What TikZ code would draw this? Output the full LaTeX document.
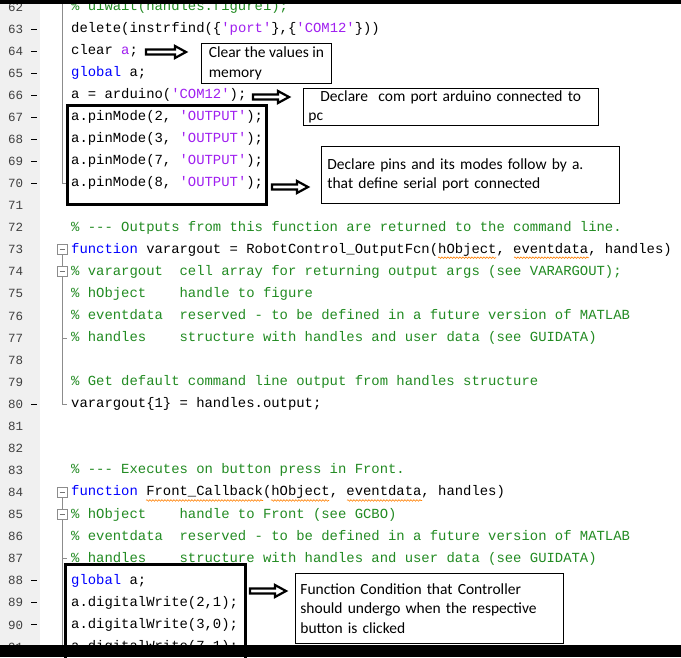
\documentclass[tikz,border=0pt]{standalone}
\usepackage{fontspec}
\setmonofont{Liberation Mono}
\newfontfamily\notefont{Carlito}
\usetikzlibrary{decorations.pathmorphing}
\definecolor{kw}{RGB}{0,0,255}
\definecolor{str}{RGB}{160,32,240}
\definecolor{com}{RGB}{34,139,34}
\definecolor{gut}{RGB}{240,240,240}
\newcommand\K[1]{\textcolor{kw}{#1}}
\newcommand\St[1]{\textcolor{str}{#1}}
\newcommand\Cm[1]{\textcolor{com}{#1}}
\newcommand\spc{\ }
\tikzset{
 code/.style={anchor=west,inner sep=0pt,font=\ttfamily\fontsize{13.9}{14}\selectfont,text height=10pt,text depth=3pt},
 lnum/.style={anchor=west,inner sep=0pt,font=\ttfamily\fontsize{12.5}{13}\selectfont,text=black!75},
 note/.style={draw=black,line width=0.8pt,fill=white,anchor=north west,align=left,inner sep=3pt,font=\notefont\fontsize{15.5}{19.5}\selectfont},
 bigbox/.style={draw=black,line width=3pt},
 barrow/.style={draw=black,line width=2.2pt,fill=white,line join=miter},
 fold/.style={draw=black!45,line width=0.7pt},
 wavy/.style={draw=orange,line width=0.6pt,decorate,decoration={snake,amplitude=0.8pt,segment length=3pt}}
}
\newcommand\Ly[1]{\fpeval{29+(#1-63)*22.07}}
\newcommand\barrowat[3]{% x, y, length
 \draw[barrow] (#1,#2-2.5) -- (#1+#3-11,#2-2.5) -- (#1+#3-11,#2-6) -- (#1+#3,#2) -- (#1+#3-11,#2+6) -- (#1+#3-11,#2+2.5) -- (#1,#2+2.5) -- cycle;}
\begin{document}
\begin{tikzpicture}[x=1pt,y=-1pt]
\useasboundingbox (0,0) rectangle (681,657);
\fill[white] (0,0) rectangle (681,657);
\fill[gut] (0,0) rectangle (40,657);
% line numbers
\foreach \n in {62,...,91}{
  \node[lnum,name=N\n] at (8,{\Ly{\n}}) {\n};
}
\foreach \n in {63,...,70,80,88,89,90,91}{
  \draw[black,line width=1pt] (31,{\Ly{\n}}) -- (37,{\Ly{\n}});
}
% fold lines
\draw[fold] (62,0) -- (62,{\Ly{70}}) -- (67,{\Ly{70}});
\draw[fold] (62,{\Ly{73}+5}) -- (62,{\Ly{80}}) -- (67,{\Ly{80}});
\draw[fold] (62,{\Ly{77}}) -- (67,{\Ly{77}});
\draw[fold] (62,{\Ly{84}+5}) -- (62,657);
\draw[fold] (62,{\Ly{87}}) -- (67,{\Ly{87}});
\foreach \n in {73,74,84,85}{
  \draw[fold,fill=white] (57,{\Ly{\n}-5}) rectangle (67,{\Ly{\n}+5});
  \draw[black!55,line width=0.7pt] (59.5,{\Ly{\n}}) -- (64.5,{\Ly{\n}});
}
% code
\node[code,name=C62] at (71,{\Ly{62}}) {\Cm{\%\spc uiwait(handles.figure1);}};
\node[code,name=C63] at (71,{\Ly{63}}) {delete(instrfind(\{\St{'port'}\},\{\St{'COM12'}\}))};
\node[code,name=C64] at (71,{\Ly{64}}) {clear \St{a};};
\node[code,name=C65] at (71,{\Ly{65}}) {\K{global} a;};
\node[code,name=C66] at (71,{\Ly{66}}) {a = arduino(\St{'COM12'});};
\node[code,name=C67] at (71,{\Ly{67}}) {a.pinMode(2, \St{'OUTPUT'});};
\node[code,name=C68] at (71,{\Ly{68}}) {a.pinMode(3, \St{'OUTPUT'});};
\node[code,name=C69] at (71,{\Ly{69}}) {a.pinMode(7, \St{'OUTPUT'});};
\node[code,name=C70] at (71,{\Ly{70}}) {a.pinMode(8, \St{'OUTPUT'});};
\node[code,name=C72] at (71,{\Ly{72}}) {\Cm{\%\spc---\spc Outputs from this function are returned to the command line.}};
\node[code,name=C73] at (71,{\Ly{73}}) {\K{function} varargout = RobotControl\_OutputFcn(hObject, eventdata, handles)};
\node[code,name=C74] at (71,{\Ly{74}}) {\Cm{\%\spc varargout\spc\spc cell array for returning output args (see VARARGOUT);}};
\node[code,name=C75] at (71,{\Ly{75}}) {\Cm{\%\spc hObject\spc\spc\spc\spc handle to figure}};
\node[code,name=C76] at (71,{\Ly{76}}) {\Cm{\%\spc eventdata\spc\spc reserved - to be defined in a future version of MATLAB}};
\node[code,name=C77] at (71,{\Ly{77}}) {\Cm{\%\spc handles\spc\spc\spc\spc structure with handles and user data (see GUIDATA)}};
\node[code,name=C79] at (71,{\Ly{79}}) {\Cm{\%\spc Get default command line output from handles structure}};
\node[code,name=C80] at (71,{\Ly{80}}) {varargout\{1\} = handles.output;};
\node[code,name=C83] at (71,{\Ly{83}}) {\Cm{\%\spc---\spc Executes on button press in Front.}};
\node[code,name=C84] at (71,{\Ly{84}}) {\K{function} Front\_Callback(hObject, eventdata, handles)};
\node[code,name=C85] at (71,{\Ly{85}}) {\Cm{\%\spc hObject\spc\spc\spc\spc handle to Front (see GCBO)}};
\node[code,name=C86] at (71,{\Ly{86}}) {\Cm{\%\spc eventdata\spc\spc reserved - to be defined in a future version of MATLAB}};
\node[code,name=C87] at (71,{\Ly{87}}) {\Cm{\%\spc handles\spc\spc\spc\spc structure with handles and user data (see GUIDATA)}};
\node[code,name=C88] at (71,{\Ly{88}}) {\K{global} a;};
\node[code,name=C89] at (71,{\Ly{89}}) {a.digitalWrite(2,1);};
\node[code,name=C90] at (71,{\Ly{90}}) {a.digitalWrite(3,0);};
\node[code,name=C91] at (71,{\Ly{91}}) {a.digitalWrite(7,1);};
% wavy underlines
\draw[wavy] (438,{\Ly{73}+8}) -- (496,{\Ly{73}+8});
\draw[wavy] (514,{\Ly{73}+8}) -- (589,{\Ly{73}+8});
\draw[wavy] (146,{\Ly{84}+8}) -- (263,{\Ly{84}+8});
\draw[wavy] (271,{\Ly{84}+8}) -- (329,{\Ly{84}+8});
\draw[wavy] (347,{\Ly{84}+8}) -- (422,{\Ly{84}+8});
% annotation boxes
\draw[bigbox] (67,105) rectangle (266,204);
\draw[bigbox] (65,564) rectangle (245,670);
\node[note,name=B1,minimum width=130pt,minimum height=40pt,inner sep=2pt] at (201,43) {Clear the values in\\memory};
\node[note,name=B2,minimum width=295pt,minimum height=25pt,text width=285pt,inner sep=2pt] at (303,88) {\hspace{12pt}Declare\ \ com port arduino connected to pc};
\node[note,name=B3,minimum width=296pt,minimum height=57pt,text width=286pt,inner sep=6pt] at (321,146) {Declare pins and its modes follow by a.\\that define serial port connected};
\node[note,name=B4,minimum width=268pt,minimum height=70pt,text width=258pt] at (295,573) {Function Condition that Controller\\should undergo when the respective\\button is clicked};
% block arrows
\barrowat{146}{52}{40}
\barrowat{253}{97}{36}
\barrowat{272}{187}{36}
\barrowat{250}{591}{36}
% black bars
\fill[black] (0,0) rectangle (681,4);
\fill[black] (0,645) rectangle (681,657);
\end{tikzpicture}
\end{document}
